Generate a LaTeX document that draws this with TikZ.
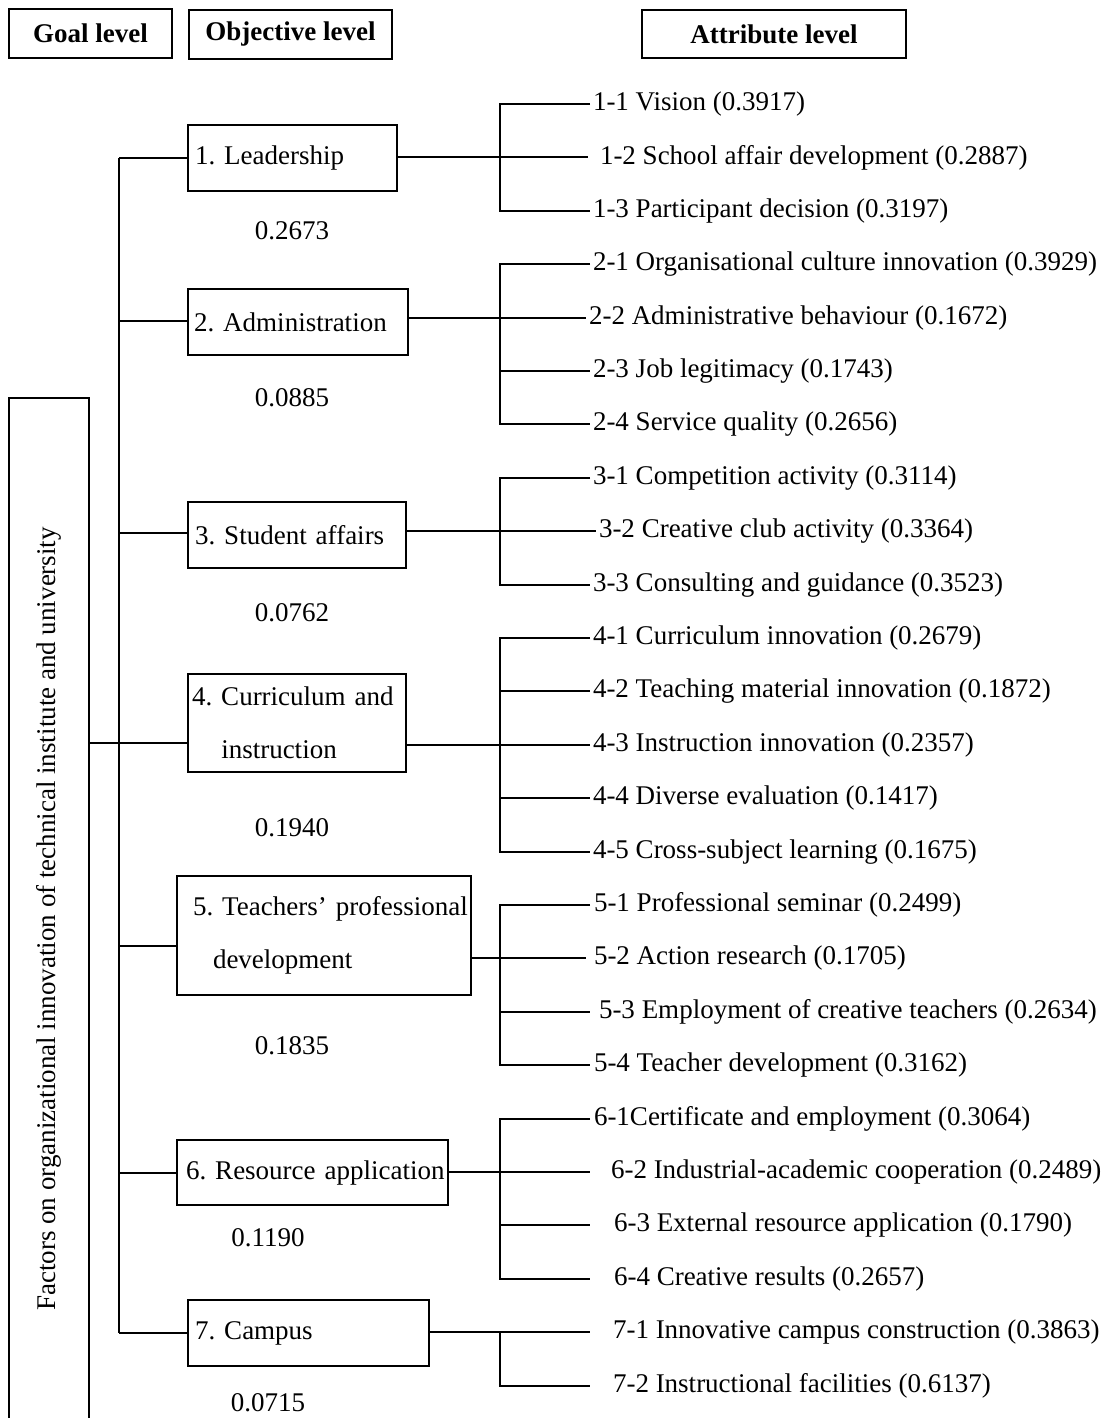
\documentclass[tikz,border=0pt]{standalone}
\usepackage{fontspec}
\setmainfont{Liberation Serif}
\begin{document}
\frenchspacing
\begin{tikzpicture}[x=0.5pt,y=-0.5pt, line width=1pt,
  every node/.style={font=\fontsize{13.5}{16}\selectfont},
  hdr/.style={draw, font=\fontsize{13.5}{16}\selectfont\bfseries, inner sep=0pt},
  obox/.style={draw, inner xsep=0pt, inner ysep=0pt, align=left},
  twoline/.style={font=\fontsize{13.5}{26.5}\selectfont},
  leaf/.style={anchor=west, inner ysep=0pt, inner xsep=1pt},
  wt/.style={inner sep=0pt}]
\useasboundingbox (0,0) rectangle (1100,1418);

% headers
\node[hdr, minimum width=81.5pt, minimum height=24.5pt] (gh) at (90.5,33.5) {Goal level};
\node[hdr, minimum width=101.5pt, minimum height=24.5pt] (oh) at (290.5,34.5) {Objective level};
\node[hdr, minimum width=132pt, minimum height=24pt] (ah) at (774,34) {Attribute level};

% goal
\node[draw, rotate=90, minimum width=521pt, minimum height=40pt, inner sep=0pt] (goal) at (49,919)
  {Factors on organizational innovation of technical institute and university};

% objectives
\node[obox, text width=104.5pt, minimum height=33pt] (o1) at (292.5,158) {\mbox{\hspace*{3.5pt}1. Leadership}};
\node[obox, text width=110pt, minimum height=33pt] (o2) at (298,322) {\mbox{\hspace*{3pt}2. Administration}};
\node[obox, text width=109pt, minimum height=33pt] (o3) at (297,535) {\mbox{\hspace*{3.5pt}3. Student affairs}};
\node[obox, twoline, text width=109pt, minimum height=49pt] (o4) at (297,723) {\mbox{\hspace*{2pt}4. Curriculum and}\\\mbox{\hspace*{2pt}\phantom{4. }instruction}};
\node[obox, twoline, text width=147pt, minimum height=59.5pt] (o5) at (324,935.5) {\mbox{\hspace*{8pt}5. Teachers’ professional}\\\mbox{\hspace*{18pt}development}};
\node[obox, text width=135.5pt, minimum height=32.5pt] (o6) at (312.5,1172.5) {\mbox{\hspace*{4.5pt}6. Resource application}};
\node[obox, text width=120.5pt, minimum height=33pt] (o7) at (308.5,1333) {\mbox{\hspace*{3.5pt}7. Campus}};

% weights
\node[wt] (w1) at (292,231) {0.2673};
\node[wt] (w2) at (292,398) {0.0885};
\node[wt] (w3) at (292,613) {0.0762};
\node[wt] (w4) at (292,828) {0.1940};
\node[wt] (w5) at (292,1046) {0.1835};
\node[wt] (w6) at (268,1238) {0.1190};
\node[wt] (w7) at (268,1403) {0.0715};

% trunk
\coordinate (t1) at (119,158);
\coordinate (t2) at (119,321);
\coordinate (t3) at (119,533);
\coordinate (t4) at (119,743);
\coordinate (t5) at (119,946);
\coordinate (t6) at (119,1173);
\coordinate (t7) at (119,1333);
\draw (t1) -- (t7);
\draw (t1) -- (o1.west |- t1);
\draw (t2) -- (o2.west |- t2);
\draw (t3) -- (o3.west |- t3);
\draw (goal.south |- t4) -- (o4.west |- t4);
\draw (t5) -- (o5.west |- t5);
\draw (t6) -- (o6.west |- t6);
\draw (t7) -- (o7.west |- t7);

% attributes
\coordinate (bx) at (500,0);
\node[leaf] (a11) at (590,104) {1-1 Vision (0.3917)};
\node[leaf, inner xsep=5.5pt] (a12) at (588,157.4) {1-2 School affair development (0.2887)};
\node[leaf] (a13) at (590,210.8) {1-3 Participant decision (0.3197)};

\node[leaf] (a21) at (590,264.2) {2-1 Organisational culture innovation (0.3929)};
\node[leaf] (a22) at (586,317.6) {2-2 Administrative behaviour (0.1672)};
\node[leaf] (a23) at (590,371) {2-3 Job legitimacy (0.1743)};
\node[leaf] (a24) at (590,424.4) {2-4 Service quality (0.2656)};

\node[leaf] (a31) at (590,477.8) {3-1 Competition activity (0.3114)};
\node[leaf] (a32) at (596,531.2) {3-2 Creative club activity (0.3364)};
\node[leaf] (a33) at (590,584.6) {3-3 Consulting and guidance (0.3523)};

\node[leaf] (a41) at (590,638) {4-1 Curriculum innovation (0.2679)};
\node[leaf] (a42) at (590,691.4) {4-2 Teaching material innovation (0.1872)};
\node[leaf] (a43) at (590,744.8) {4-3 Instruction innovation (0.2357)};
\node[leaf] (a44) at (590,798.2) {4-4 Diverse evaluation (0.1417)};
\node[leaf] (a45) at (590,851.6) {4-5 Cross-subject learning (0.1675)};

\node[leaf, inner xsep=1.5pt] (a51) at (590,905) {5-1 Professional seminar (0.2499)};
\node[leaf, inner xsep=3.5pt] (a52) at (586,958.4) {5-2 Action research (0.1705)};
\node[leaf, inner xsep=4pt] (a53) at (590,1011.8) {5-3 Employment of creative teachers (0.2634)};
\node[leaf, inner xsep=1.5pt] (a54) at (590,1065.2) {5-4 Teacher development (0.3162)};

\node[leaf, inner xsep=1.5pt] (a61) at (590,1118.6) {6-1Certificate and employment (0.3064)};
\node[leaf, inner xsep=10pt] (a62) at (590,1172) {6-2 Industrial-academic cooperation (0.2489)};
\node[leaf, inner xsep=11.5pt] (a63) at (590,1225.4) {6-3 External resource application (0.1790)};
\node[leaf, inner xsep=11.5pt] (a64) at (590,1278.8) {6-4 Creative results (0.2657)};

\node[leaf, inner xsep=11pt] (a71) at (590,1332.2) {7-1 Innovative campus construction (0.3863)};
\node[leaf, inner xsep=11pt] (a72) at (590,1385.6) {7-2 Instructional facilities (0.6137)};

% group connectors
\draw (o1.east |- a12.west) -- (a12.west);
\draw (a11.west) -- (bx |- a11.west) -- (bx |- a13.west) -- (a13.west);

\draw (o2.east |- a22.west) -- (a22.west);
\draw (a21.west) -- (bx |- a21.west) -- (bx |- a24.west) -- (a24.west);
\draw (bx |- a23.west) -- (a23.west);

\draw (o3.east |- a32.west) -- (a32.west);
\draw (a31.west) -- (bx |- a31.west) -- (bx |- a33.west) -- (a33.west);

\draw (o4.east |- a43.west) -- (a43.west);
\draw (a41.west) -- (bx |- a41.west) -- (bx |- a45.west) -- (a45.west);
\draw (bx |- a42.west) -- (a42.west);
\draw (bx |- a44.west) -- (a44.west);

\draw (o5.east |- a52.west) -- (a52.west);
\draw (a51.west) -- (bx |- a51.west) -- (bx |- a54.west) -- (a54.west);
\draw (bx |- a53.west) -- (a53.west);

\draw (o6.east |- a62.west) -- (a62.west);
\draw (a61.west) -- (bx |- a61.west) -- (bx |- a64.west) -- (a64.west);
\draw (bx |- a63.west) -- (a63.west);

\draw (o7.east |- a71.west) -- (a71.west);
\draw (bx |- a71.west) -- (bx |- a72.west) -- (a72.west);
\end{tikzpicture}
\end{document}
